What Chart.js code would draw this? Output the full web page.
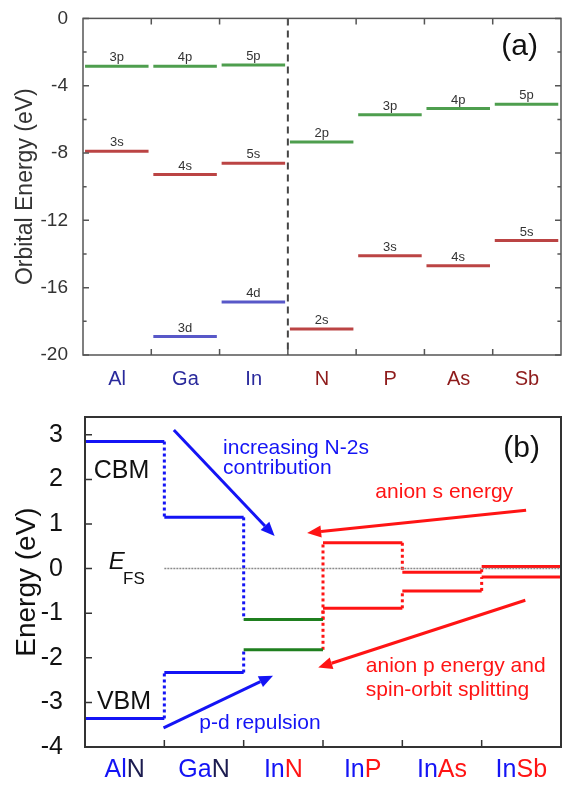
<!DOCTYPE html>
<html>
<head>
<meta charset="utf-8">
<script src="https://cdn.jsdelivr.net/npm/chart.js@4.4.1/dist/chart.umd.min.js"></script>
<style>
  body { margin: 0; background: #fff; }
  #wrap { position: relative; width: 563px; height: 785px; }
  canvas { position: absolute; left: 0; }
  #chartA { top: 0; }
  #chartB { top: 388px; }
</style>
</head>
<body>
<div id="wrap">
  <canvas id="chartA" width="563" height="388"></canvas>
  <canvas id="chartB" width="563" height="397"></canvas>
</div>
<script>
// panel (a): atomic orbital energies (eV)
const cations = ['Al', 'Ga', 'In'];
const anions = ['N', 'P', 'As', 'Sb'];
const atoms = cations.concat(anions);
const pLevel = [-2.85, -2.85, -2.77, -7.34, -5.72, -5.35, -5.1];
const pName = ['3p', '4p', '5p', '2p', '3p', '4p', '5p'];
const sLevel = [-7.9, -9.28, -8.6, -18.45, -14.1, -14.7, -13.2];
const sName = ['3s', '4s', '5s', '2s', '3s', '4s', '5s'];
const dLevel = [null, -18.9, -16.85, null, null, null, null];
const dName = [null, '3d', '4d', null, null, null, null];
const yTicksA = [0, -4, -8, -12, -16, -20];

// panel (b): band edges relative to E_FS (eV)
const compounds = [['Al', 'N'], ['Ga', 'N'], ['In', 'N'], ['In', 'P'], ['In', 'As'], ['In', 'Sb']];
const cbm = [2.85, 1.15, -1.14, 0.58, -0.08, 0.05];
const vbm = [-3.36, -2.33, -1.82, -0.89, -0.5, -0.19];
const yTicksB = [3, 2, 1, 0, -1, -2, -3, -4];

const FONT = '"Liberation Sans", Arial, sans-serif';
const BLUE = '#1414f5';
const RED = '#ff1414';
const GREEN = '#1f7f1f';

// inward ticks + frame, both panels
const frameTicks = {
  id: 'frameTicks',
  afterDraw(chart, args, o) {
    const { ctx, chartArea: a, scales: { x, y } } = chart;
    ctx.save();
    ctx.strokeStyle = o.color;
    ctx.lineWidth = o.width;
    ctx.strokeRect(a.left, a.top, a.right - a.left, a.bottom - a.top);
    ctx.lineWidth = 1.5;
    ctx.beginPath();
    o.xTicks.forEach(v => {
      const px = x.getPixelForValue(v);
      ctx.moveTo(px, a.bottom); ctx.lineTo(px, a.bottom - o.len);
      if (o.mirror) { ctx.moveTo(px, a.top); ctx.lineTo(px, a.top + o.len); }
    });
    o.yMajor.forEach(v => {
      const py = y.getPixelForValue(v);
      ctx.moveTo(a.left, py); ctx.lineTo(a.left + o.len, py);
      if (o.mirror) { ctx.moveTo(a.right, py); ctx.lineTo(a.right - o.len, py); }
    });
    o.yMinor.forEach(v => {
      const py = y.getPixelForValue(v);
      ctx.moveTo(a.left, py); ctx.lineTo(a.left + o.len * 0.6, py);
      if (o.mirror) { ctx.moveTo(a.right, py); ctx.lineTo(a.right - o.len * 0.6, py); }
    });
    ctx.stroke();
    ctx.restore();
  }
};

// ---------- panel (a) ----------
const levelSets = [
  { values: pLevel, names: pName, color: '#4e9e4e' },
  { values: sLevel, names: sName, color: '#bb4444' },
  { values: dLevel, names: dName, color: '#5858c8' }
];
const levelDatasets = [];
levelSets.forEach(set => {
  set.values.forEach((v, i) => {
    if (v === null) return;
    levelDatasets.push({
      data: [{ x: i + 0.03, y: v }, { x: i + 0.96, y: v }],
      borderColor: set.color,
      borderWidth: 3,
      pointRadius: 0,
      showLine: true,
      levelName: set.names[i]
    });
  });
});
levelDatasets.push({
  data: [{ x: cations.length, y: 0 }, { x: cations.length, y: -20 }],
  borderColor: '#444',
  borderWidth: 2,
  borderDash: [7, 5],
  pointRadius: 0,
  showLine: true
});

const levelLabels = {
  id: 'levelLabels',
  afterDatasetsDraw(chart) {
    const ctx = chart.ctx;
    ctx.save();
    ctx.font = '13px ' + FONT;
    ctx.fillStyle = '#333';
    ctx.textAlign = 'center';
    ctx.textBaseline = 'bottom';
    chart.data.datasets.forEach((ds, k) => {
      if (!ds.levelName) return;
      const pts = chart.getDatasetMeta(k).data;
      ctx.fillText(ds.levelName, (pts[0].x + pts[1].x) / 2, pts[0].y - 2);
    });
    ctx.font = '30px ' + FONT;
    ctx.fillStyle = '#111';
    ctx.textAlign = 'right';
    ctx.textBaseline = 'middle';
    ctx.fillText('(a)', 538, 47);
    ctx.restore();
  }
};

new Chart(document.getElementById('chartA'), {
  type: 'scatter',
  data: { datasets: levelDatasets },
  plugins: [frameTicks, levelLabels],
  options: {
    responsive: false,
    animation: false,
    devicePixelRatio: 1,
    layout: { padding: { top: 16, right: 2, left: 0, bottom: 0 } },
    plugins: {
      legend: { display: false },
      tooltip: { enabled: false },
      frameTicks: {
        color: '#555', width: 1.5, len: 6, mirror: true,
        xTicks: [1, 2, 3, 4, 5, 6],
        yMajor: yTicksA,
        yMinor: [-2, -6, -10, -14, -18]
      }
    },
    scales: {
      x: {
        type: 'linear', min: 0, max: atoms.length,
        grid: { display: false }, border: { display: false },
        afterBuildTicks: s => { s.ticks = atoms.map((a, i) => ({ value: i + 0.5 })); },
        afterFit: s => { s.height = 33; },
        ticks: {
          autoSkip: false, maxRotation: 0, padding: 4,
          font: { family: FONT, size: 20 },
          color: c => c.index < cations.length ? '#2a2a9c' : '#8e1b1b',
          callback: (v, i) => atoms[i]
        }
      },
      y: {
        min: -20, max: 0,
        grid: { display: false }, border: { display: false },
        afterBuildTicks: s => { s.ticks = yTicksA.map(v => ({ value: v })); },
        afterFit: s => { s.width = 83; },
        ticks: { padding: 7, font: { family: FONT, size: 19 }, color: '#333' },
        title: {
          display: true, text: 'Orbital Energy (eV)', color: '#333',
          font: { family: FONT, size: 23 }, padding: { top: 12, bottom: 0 }
        }
      }
    }
  }
});

// ---------- panel (b) ----------
const compColor = i => i < 2 ? BLUE : (i === 2 ? GREEN : RED);
const linkColor = i => i <= 2 ? BLUE : RED;
const bandDatasets = [{
  data: [{ x: 1, y: 0 }, { x: compounds.length, y: 0 }],
  borderColor: '#8a8a8a', borderWidth: 1.5, borderDash: [2, 1],
  pointRadius: 0, showLine: true
}];
[cbm, vbm].forEach(edge => {
  edge.forEach((v, i) => {
    bandDatasets.push({
      data: [{ x: i, y: v }, { x: i + 1, y: v }],
      borderColor: compColor(i), borderWidth: 3, pointRadius: 0, showLine: true
    });
    if (i > 0) {
      bandDatasets.push({
        data: [{ x: i, y: edge[i - 1] }, { x: i, y: v }],
        borderColor: linkColor(i), borderWidth: 3, borderDash: [3, 3],
        pointRadius: 0, showLine: true
      });
    }
  });
});

// annotation arrows / text in data units
const arrows = [
  { from: [1.12, 3.11], to: [2.39, 0.73], color: BLUE },
  { from: [5.56, 1.31], to: [2.80, 0.80], color: RED },
  { from: [5.55, -0.71], to: [2.94, -2.22], color: RED },
  { from: [0.99, -3.57], to: [2.37, -2.40], color: BLUE }
];
const notes = [
  { t: 'increasing N-2s', x: 1.74, y: 2.71, c: BLUE, s: 21 },
  { t: 'contribution', x: 1.74, y: 2.26, c: BLUE, s: 21 },
  { t: 'anion s energy', x: 3.66, y: 1.71, c: RED, s: 21 },
  { t: 'anion p energy and', x: 3.54, y: -2.18, c: RED, s: 21 },
  { t: 'spin-orbit splitting', x: 3.54, y: -2.73, c: RED, s: 21 },
  { t: 'p-d repulsion', x: 1.44, y: -3.46, c: BLUE, s: 21 },
  { t: 'CBM', x: 0.11, y: 2.18, c: '#111', s: 25 },
  { t: 'VBM', x: 0.15, y: -2.99, c: '#111', s: 25 }
];

const bandNotes = {
  id: 'bandNotes',
  afterDatasetsDraw(chart) {
    const { ctx, scales: { x, y } } = chart;
    ctx.save();
    arrows.forEach(a => {
      const x0 = x.getPixelForValue(a.from[0]), y0 = y.getPixelForValue(a.from[1]);
      const x1 = x.getPixelForValue(a.to[0]), y1 = y.getPixelForValue(a.to[1]);
      const ang = Math.atan2(y1 - y0, x1 - x0);
      const hl = 14, hw = 6;
      const bx = x1 - hl * Math.cos(ang), by = y1 - hl * Math.sin(ang);
      ctx.strokeStyle = a.color; ctx.fillStyle = a.color; ctx.lineWidth = 3;
      ctx.beginPath(); ctx.moveTo(x0, y0); ctx.lineTo(bx, by); ctx.stroke();
      ctx.beginPath();
      ctx.moveTo(x1, y1);
      ctx.lineTo(bx + hw * Math.sin(ang), by - hw * Math.cos(ang));
      ctx.lineTo(bx - hw * Math.sin(ang), by + hw * Math.cos(ang));
      ctx.closePath(); ctx.fill();
    });
    ctx.textBaseline = 'middle';
    ctx.textAlign = 'left';
    notes.forEach(n => {
      ctx.font = n.s + 'px ' + FONT;
      ctx.fillStyle = n.c;
      ctx.fillText(n.t, x.getPixelForValue(n.x), y.getPixelForValue(n.y));
    });
    // E_FS
    ctx.fillStyle = '#111';
    ctx.font = 'italic 24px ' + FONT;
    ctx.fillText('E', x.getPixelForValue(0.30), y.getPixelForValue(0.13));
    ctx.font = '17px ' + FONT;
    ctx.fillText('FS', x.getPixelForValue(0.48), y.getPixelForValue(-0.25));
    ctx.font = '30px ' + FONT;
    ctx.textAlign = 'right';
    ctx.fillText('(b)', 540, 449 - 388);
    // compound labels, cation blue / anion red
    ctx.font = '25px ' + FONT;
    ctx.textAlign = 'left';
    const ly = chart.chartArea.bottom + 23;
    compounds.forEach((c, i) => {
      const w0 = ctx.measureText(c[0]).width, w1 = ctx.measureText(c[1]).width;
      const cx = x.getPixelForValue(i + 0.5) - (w0 + w1) / 2;
      ctx.fillStyle = BLUE;
      ctx.fillText(c[0], cx, ly);
      ctx.fillStyle = i < 2 ? '#1c1c50' : RED;
      ctx.fillText(c[1], cx + w0, ly);
    });
    ctx.restore();
  }
};

new Chart(document.getElementById('chartB'), {
  type: 'scatter',
  data: { datasets: bandDatasets },
  plugins: [frameTicks, bandNotes],
  options: {
    responsive: false,
    animation: false,
    devicePixelRatio: 1,
    layout: { padding: { top: 25, right: 2, left: 0, bottom: 0 } },
    plugins: {
      legend: { display: false },
      tooltip: { enabled: false },
      frameTicks: {
        color: '#333', width: 2, len: 7, mirror: false,
        xTicks: [1, 2, 3, 4, 5],
        yMajor: yTicksB,
        yMinor: []
      }
    },
    scales: {
      x: {
        type: 'linear', min: 0, max: compounds.length,
        grid: { display: false }, border: { display: false },
        ticks: { display: false },
        afterFit: s => { s.height = 38; }
      },
      y: {
        min: -4, max: 3.4,
        grid: { display: false }, border: { display: false },
        afterBuildTicks: s => { s.ticks = yTicksB.map(v => ({ value: v })); },
        afterFit: s => { s.width = 85; },
        ticks: { padding: 14, font: { family: FONT, size: 25 }, color: '#111' },
        title: {
          display: true, text: 'Energy (eV)', color: '#111',
          font: { family: FONT, size: 28 }, padding: { top: 10, bottom: 0 }
        }
      }
    }
  }
});
</script>
</body>
</html>
